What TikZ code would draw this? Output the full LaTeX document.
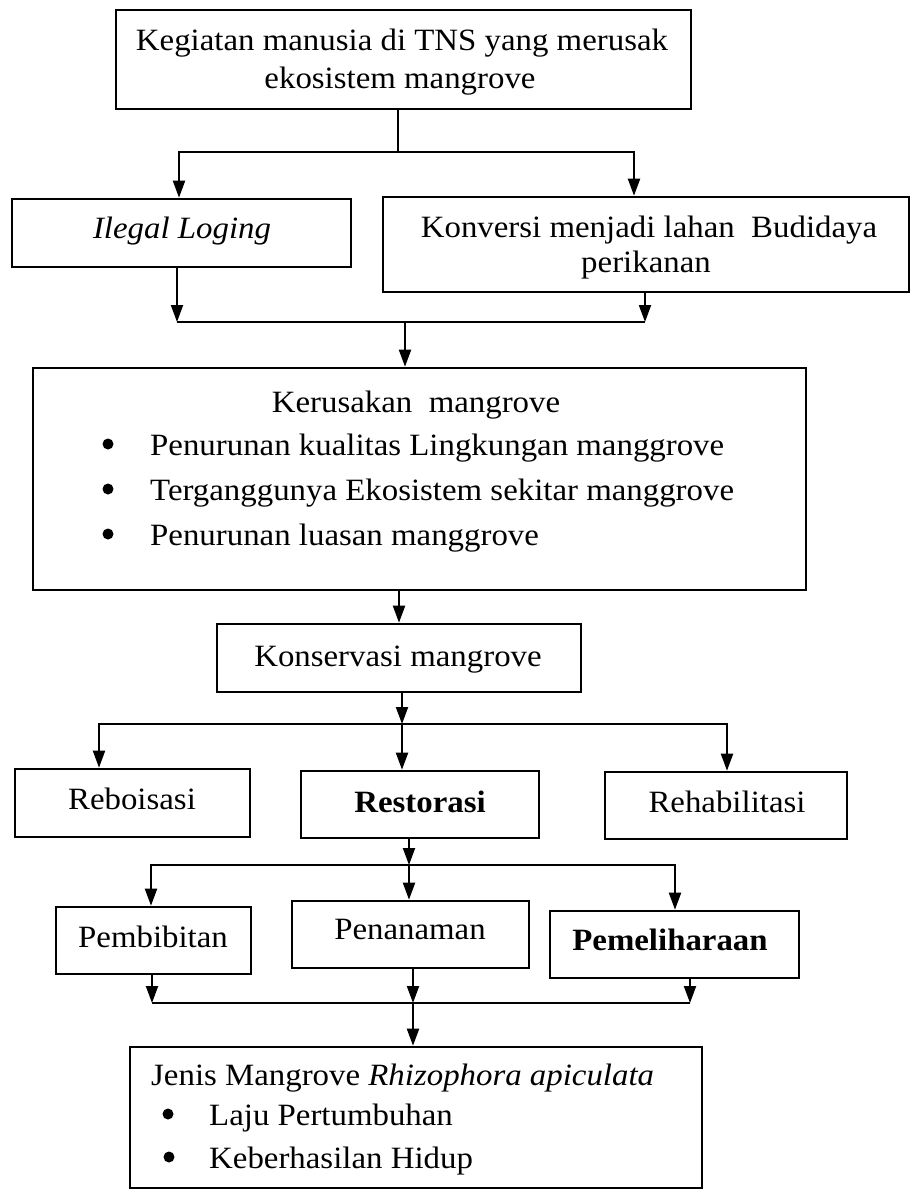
\documentclass[tikz,border=0pt]{standalone}
\usepackage{fontspec}
\setmainfont[FakeStretch=1.06]{Liberation Serif}
\usetikzlibrary{arrows.meta}
\begin{document}
\begin{tikzpicture}[x=1pt,y=-1pt,
  box/.style={draw, line width=2.6pt, inner sep=0pt},
  conn/.style={line width=2pt},
  arr/.style={line width=2pt, -{Triangle[length=17pt,width=12pt]}},
  txt/.style={inner sep=0pt, anchor=base, font=\fontsize{31}{37}\selectfont},
  ltxt/.style={txt, anchor=base west},
  dot/.style={fill=black},
]
\useasboundingbox (0,0) rectangle (912,1191);
% boxes
\node[box, minimum width=575, minimum height=99] (top) at (403.5,59.5) {};
\node[box, minimum width=339, minimum height=68] (ilegal) at (181.5,233) {};
\node[box, minimum width=526, minimum height=95] (konv) at (646,244.5) {};
\node[box, minimum width=773, minimum height=222] (keru) at (419.5,479) {};
\node[box, minimum width=364, minimum height=68] (kons) at (399,658) {};
\node[box, minimum width=235, minimum height=68] (rebo) at (132.5,803) {};
\node[box, minimum width=238, minimum height=67] (rest) at (420,804.5) {};
\node[box, minimum width=242, minimum height=67] (reha) at (726,805.5) {};
\node[box, minimum width=195, minimum height=67] (pemb) at (153.5,940.5) {};
\node[box, minimum width=237, minimum height=67] (pena) at (410.5,934.5) {};
\node[box, minimum width=249, minimum height=67] (peme) at (674.5,944.5) {};
\node[box, minimum width=572, minimum height=141] (jenis) at (416,1117.5) {};
% texts
\node[txt] (top1) at (402,50) {Kegiatan manusia di TNS yang merusak};
\node[txt] (top2) at (400,88) {ekosistem mangrove};
\node[txt] (ilegalt) at (182,238) {\textit{Ilegal Loging}};
\node[txt] (konv1) at (649,237) {Konversi menjadi lahan\ \ Budidaya};
\node[txt] (konv2) at (646,272) {perikanan};
\node[txt] (kerut) at (416,412) {Kerusakan\ \ mangrove};
\node[ltxt] (keru1) at (150,455) {Penurunan kualitas Lingkungan manggrove};
\node[ltxt] (keru2) at (150,500) {Terganggunya Ekosistem sekitar manggrove};
\node[ltxt] (keru3) at (150,545) {Penurunan luasan manggrove};
\node[txt] (konst) at (398,666) {Konservasi mangrove};
\node[txt] (rebot) at (132,809) {Reboisasi};
\node[txt] (restt) at (420,812) {\textbf{Restorasi}};
\node[txt] (rehat) at (727,812) {Rehabilitasi};
\node[txt] (pembt) at (153,947) {Pembibitan};
\node[txt] (penat) at (410,939) {Penanaman};
\node[txt] (pemet) at (670,950) {\textbf{Pemeliharaan}};
\node[ltxt] (jenist) at (151,1085) {Jenis Mangrove \textit{Rhizophora apiculata}};
\node[ltxt] (jenis1) at (209,1125) {Laju Pertumbuhan};
\node[ltxt] (jenis2) at (209,1168) {Keberhasilan Hidup};
% bullets
\fill[dot] (108,444) circle (5.5pt);
\fill[dot] (108,489) circle (5.5pt);
\fill[dot] (108,534) circle (5.5pt);
\fill[dot] (168,1114) circle (5.5pt);
\fill[dot] (169,1157) circle (5.5pt);
% junction coordinates
\coordinate (j1) at (398,152); \coordinate (j1l) at (179,152); \coordinate (j1r) at (634,152);
\coordinate (j2) at (405,322); \coordinate (j2l) at (177,322); \coordinate (j2r) at (645,322);
\coordinate (j3) at (402,724); \coordinate (j3l) at (99,724); \coordinate (j3r) at (727,724);
\coordinate (j4) at (409,865); \coordinate (j4l) at (151,865); \coordinate (j4r) at (675,865);
\coordinate (j5) at (413,1003); \coordinate (j5l) at (152,1003); \coordinate (j5r) at (690,1003);
% connectors
\draw[conn] (top.south -| j1) -- (j1);
\draw[arr] (j1) -- (j1l) -- (ilegal.north -| j1l);
\draw[arr] (j1) -- (j1r) -- (konv.north -| j1r);
\draw[arr] (ilegal.south -| j2l) -- (j2l);
\draw[arr] (konv.south -| j2r) -- (j2r);
\draw[conn] (j2l) -- (j2r);
\draw[arr] (j2) -- (keru.north -| j2);
\draw[arr] (keru.south -| kons.north) -- (kons.north);
\draw[arr] (kons.south -| j3) -- (j3);
\draw[arr] (j3) -- (j3l) -- (rebo.north -| j3l);
\draw[arr] (j3) -- (j3r) -- (reha.north -| j3r);
\draw[arr] (j3) -- (rest.north -| j3);
\draw[arr] (rest.south -| j4) -- (j4);
\draw[arr] (j4) -- (j4l) -- (pemb.north -| j4l);
\draw[arr] (j4) -- (j4r) -- (peme.north -| j4r);
\draw[arr] (j4) -- (pena.north -| j4);
\draw[arr] (pemb.south -| j5l) -- (j5l);
\draw[arr] (pena.south -| j5) -- (j5);
\draw[arr] (peme.south -| j5r) -- (j5r);
\draw[conn] (j5l) -- (j5r);
\draw[arr] (j5) -- (jenis.north -| j5);
\end{tikzpicture}
\end{document}
